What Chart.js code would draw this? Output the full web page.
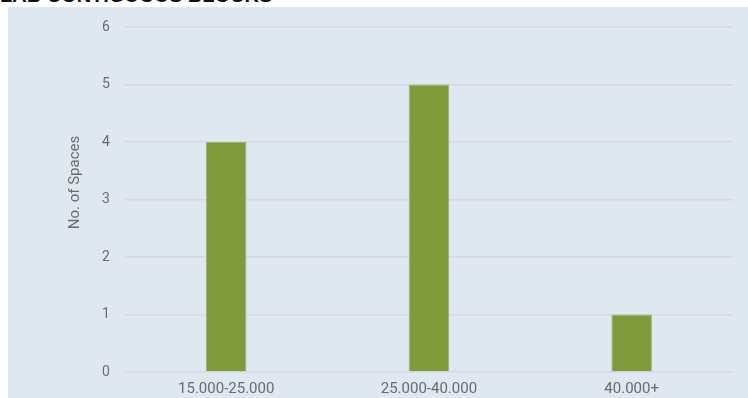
<!DOCTYPE html>
<html>
<head>
<meta charset="utf-8">
<script src="https://cdn.jsdelivr.net/npm/chart.js@4/dist/chart.umd.min.js"></script>
<style>
  body { margin: 0; background: #fff; overflow: hidden; }
  #title {
    position: absolute; left: 0; top: -16px;
    font: bold 20px "Liberation Sans", Arial, sans-serif; color: #111;
    white-space: nowrap;
  }
  #panel {
    position: absolute; left: 8px; top: 7px; width: 740px; height: 400px;
    background: #dfe7f1;
  }
  canvas { display: block; }
</style>
</head>
<body>
<div id="title">LAB CONTIGUOUS BLOCKS</div>
<div id="panel"><canvas id="chart" width="740" height="400"></canvas></div>
<script>
// price bands and how many spaces fall in each
var bands = ["15.000-25.000", "25.000-40.000", "40.000+"];
var spaces = [4, 5, 1];
var yTicks = [0, 1, 2, 3, 4, 5, 6];
var yTitle = "No. of Spaces";

var gray = "#6b6b6b";

// y axis title, drawn a bit above the middle of the plot like the original
var yTitlePlugin = {
  id: "yTitle",
  afterDraw: function(chart) {
    var ctx = chart.ctx;
    var area = chart.chartArea;
    ctx.save();
    ctx.translate(67.5, (area.top + area.bottom) / 2 - 17);
    ctx.rotate(-Math.PI / 2);
    ctx.textAlign = "center";
    ctx.textBaseline = "middle";
    ctx.fillStyle = gray;
    ctx.font = "15px Roboto";
    ctx.fillText(yTitle, 0, 0);
    ctx.restore();
  }
};

new Chart(document.getElementById("chart"), {
  type: "bar",
  data: {
    labels: bands,
    datasets: [{
      data: spaces,
      backgroundColor: "#7f9a3a",
      borderColor: "#9fb46e",
      borderWidth: 1,
      barPercentage: 0.2,
      categoryPercentage: 1
    }]
  },
  options: {
    responsive: false,
    animation: false,
    layout: { padding: { left: 79, right: 15, top: 20, bottom: 9 } },
    plugins: { legend: { display: false }, tooltip: { enabled: false } },
    scales: {
      x: {
        grid: { display: false },
        border: { display: false },
        ticks: { color: gray, font: { family: "Roboto", size: 15 }, padding: 0 }
      },
      y: {
        min: yTicks[0],
        max: yTicks[yTicks.length - 1],
        afterBuildTicks: function(axis) {
          axis.ticks = yTicks.map(function(v) { return { value: v }; });
        },
        // tick padding would otherwise push the plot down from the top
        afterFit: function(axis) {
          axis.paddingTop = 0;
          axis.paddingBottom = 0;
        },
        grid: { color: "#d2d9e2", lineWidth: 1.5, drawTicks: false },
        border: { display: false },
        ticks: { color: gray, font: { family: "Roboto", size: 14 }, padding: 15 }
      }
    }
  },
  plugins: [yTitlePlugin]
});
</script>
</body>
</html>
